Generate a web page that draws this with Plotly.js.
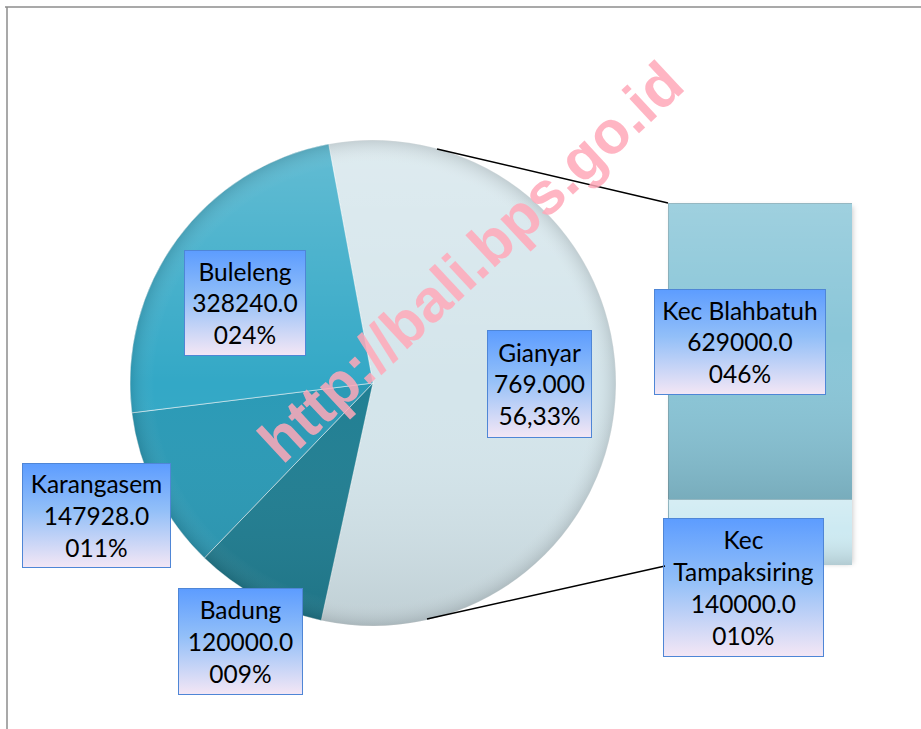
<!DOCTYPE html>
<html>
<head>
<meta charset="utf-8">
<script src="https://cdn.plot.ly/plotly-3.0.1.min.js"></script>
<style>
  html, body { margin: 0; padding: 0; background: #ffffff; }
  #chart { width: 921px; height: 729px; }
</style>
</head>
<body>
<div id="chart"></div>
<script>
// ---- data ----
const pieLabels = ['Gianyar', 'Badung', 'Karangasem', 'Buleleng'];
const pieValues = [769000, 120000, 147928, 328240];
const pieValueText = ['769.000', '120000.0', '147928.0', '328240.0'];
const piePctText = ['56,33%', '009%', '011%', '024%'];

const barLabels = ['Kec Tampaksiring', 'Kec Blahbatuh'];
const barValues = [140000, 629000];
const barValueText = ['140000.0', '629000.0'];
const barPctText = ['010%', '046%'];

const barCategory = ['Gianyar'];
const watermarkText = 'http://bali.bps.go.id';

// ---- helpers: pixel -> paper ----
const W = 921, H = 729;
const px = x => x / W;
const py = y => 1 - y / H;
const svgUri = s => 'data:image/svg+xml;charset=utf-8,' + encodeURIComponent(s);

const pieColors = ['#d4e5eb', '#217f93', '#2b9ab6', '#33a8c6'];
const barColors = ['#cdeaf2', '#8ac6d8'];

const pieBox = [130, 140, 616, 626]; // left, top, right, bottom (pixels)
const barBox = [668, 203, 852, 565];

const pieTrace = {
  type: 'pie',
  labels: pieLabels,
  values: pieValues,
  sort: false,
  direction: 'clockwise',
  rotation: -10.5,
  textinfo: 'none',
  marker: { colors: pieColors, line: { color: 'rgba(255,255,255,0.5)', width: 1 } },
  domain: { x: [px(pieBox[0]), px(pieBox[2])], y: [py(pieBox[3]), py(pieBox[1])] },
  showlegend: false
};

const barTraces = barLabels.map((lab, i) => ({
  type: 'bar',
  x: barCategory,
  y: [barValues[i]],
  name: lab,
  width: 1,
  marker: { color: barColors[i], line: { color: '#7fa9b5', width: 1 } },
  xaxis: 'x', yaxis: 'y',
  showlegend: false,
  hoverinfo: 'name+y'
}));

const barTotal = barValues.reduce((a, b) => a + b, 0);

// label boxes (pixel boxes: left, top, right, bottom)
const boxBorder = '#4f86d6';
const labelFont = { family: 'Lato, "Open Sans", sans-serif', size: 24.5, color: '#000000' };

const pieBoxes = [
  [487, 330, 592, 438],   // Gianyar
  [178, 588, 303, 695],   // Badung
  [22, 463, 171, 568],    // Karangasem
  [184, 250, 306, 356]    // Buleleng
];
const barBoxes = [
  [663, 518, 824, 657],   // Tampaksiring
  [654, 289, 826, 395]    // Blahbatuh
];

function box(b, text) {
  return {
    xref: 'paper', yref: 'paper',
    x: px((b[0] + b[2]) / 2), y: py((b[1] + b[3]) / 2),
    xanchor: 'center', yanchor: 'middle',
    showarrow: false,
    text: text,
    align: 'center',
    font: labelFont,
    bgcolor: 'rgba(0,0,0,0)',
    bordercolor: boxBorder,
    borderwidth: 1,
    borderpad: 0,
    width: b[2] - b[0] - 2,
    height: b[3] - b[1] - 2
  };
}

function imgAt(b, src, layer) {
  return {
    source: src, xref: 'paper', yref: 'paper',
    x: px(b[0]), y: py(b[1]),
    sizex: (b[2] - b[0]) / W, sizey: (b[3] - b[1]) / H,
    xanchor: 'left', yanchor: 'top', sizing: 'stretch', layer: layer
  };
}

const boxGrad = svgUri('<svg xmlns="http://www.w3.org/2000/svg" width="100" height="100" viewBox="0 0 100 100" preserveAspectRatio="none"><defs><linearGradient id="g" x1="0" y1="0" x2="0" y2="1"><stop offset="0" stop-color="#5c9cff"/><stop offset="0.45" stop-color="#92bff8"/><stop offset="1" stop-color="#f5e7f5"/></linearGradient></defs><rect width="100" height="100" fill="url(#g)"/></svg>');

const pieShade = svgUri('<svg xmlns="http://www.w3.org/2000/svg" width="200" height="200" viewBox="0 0 200 200"><defs><linearGradient id="s" x1="0" y1="0" x2="0" y2="1"><stop offset="0" stop-color="#ffffff" stop-opacity="0.24"/><stop offset="0.5" stop-color="#ffffff" stop-opacity="0"/><stop offset="1" stop-color="#000000" stop-opacity="0.1"/></linearGradient><radialGradient id="r" cx="0.5" cy="0.5" r="0.5"><stop offset="0.9" stop-color="#ffffff" stop-opacity="0"/><stop offset="1" stop-color="#000000" stop-opacity="0.12"/></radialGradient></defs><circle cx="100" cy="100" r="100" fill="url(#s)"/><circle cx="100" cy="100" r="100" fill="url(#r)"/></svg>');

const pieShadow = svgUri('<svg xmlns="http://www.w3.org/2000/svg" width="240" height="240" viewBox="0 0 240 240"><defs><filter id="f" x="-20%" y="-20%" width="140%" height="140%"><feGaussianBlur stdDeviation="3"/></filter></defs><circle cx="123" cy="124" r="100" fill="#000000" fill-opacity="0.35" filter="url(#f)"/></svg>');

const barShade = svgUri('<svg xmlns="http://www.w3.org/2000/svg" width="100" height="100" viewBox="0 0 100 100" preserveAspectRatio="none"><defs><linearGradient id="b" x1="0" y1="0" x2="0" y2="1"><stop offset="0" stop-color="#ffffff" stop-opacity="0.18"/><stop offset="0.45" stop-color="#ffffff" stop-opacity="0"/><stop offset="1" stop-color="#000000" stop-opacity="0.13"/></linearGradient></defs><rect width="100" height="100" fill="url(#b)"/></svg>');

const barShadow = svgUri('<svg xmlns="http://www.w3.org/2000/svg" width="200" height="400" viewBox="0 0 200 400" preserveAspectRatio="none"><defs><filter id="f" x="-10%" y="-10%" width="120%" height="120%"><feGaussianBlur stdDeviation="3"/></filter></defs><rect x="14" y="14" width="176" height="374" fill="#000000" fill-opacity="0.28" filter="url(#f)"/></svg>');

// boundary between the two bar segments, in pixels, from the data
const barSplitY = barBox[3] - (barBox[3] - barBox[1]) * barValues[0] / barTotal;

const images = [
  imgAt([pieBox[0] - 12, pieBox[1] - 12, pieBox[2] + 12, pieBox[3] + 12], pieShadow, 'below'),
  imgAt([barBox[0] - 10, barBox[1] - 10, barBox[2] + 10, barBox[3] + 10], barShadow, 'below'),
  imgAt(pieBox, pieShade, 'above'),
  imgAt([barBox[0], barBox[1], barBox[2], barSplitY], barShade, 'above'),
  imgAt([barBox[0], barSplitY, barBox[2], barBox[3]], barShade, 'above')
];
pieBoxes.concat(barBoxes).forEach(b => images.push(imgAt(b, boxGrad, 'above')));

const annotations = [];
pieLabels.forEach((lab, i) => {
  annotations.push(box(pieBoxes[i], lab + '<br>' + pieValueText[i] + '<br>' + piePctText[i]));
});
barLabels.forEach((lab, i) => {
  annotations.push(box(barBoxes[i], lab.replace('Kec Tampaksiring', 'Kec<br>Tampaksiring') + '<br>' + barValueText[i] + '<br>' + barPctText[i]));
});
annotations.push({
  xref: 'paper', yref: 'paper',
  x: px(470), y: py(262),
  xanchor: 'center', yanchor: 'middle',
  showarrow: false,
  text: '<b>' + watermarkText + '</b>',
  textangle: -43,
  font: { family: '"Liberation Sans", Arial, sans-serif', size: 60, color: 'rgba(255,168,185,0.85)' }
});

const shapes = [
  // outer frame (top and left)
  { type: 'line', xref: 'paper', yref: 'paper', x0: px(5), y0: py(7), x1: 1.01, y1: py(7), line: { color: '#8c8c8c', width: 1.5 } },
  { type: 'line', xref: 'paper', yref: 'paper', x0: px(7), y0: py(7), x1: px(7), y1: -0.01, line: { color: '#8c8c8c', width: 1.5 } },
  // connector lines
  { type: 'line', xref: 'paper', yref: 'paper', x0: px(437), y0: py(149), x1: px(668), y1: py(203), line: { color: '#000000', width: 1.5 } },
  { type: 'line', xref: 'paper', yref: 'paper', x0: px(427), y0: py(619), x1: px(665), y1: py(566), line: { color: '#000000', width: 1.5 } }
];

const layout = {
  width: W, height: H,
  margin: { l: 0, r: 0, t: 0, b: 0, pad: 0 },
  paper_bgcolor: '#ffffff',
  plot_bgcolor: 'rgba(0,0,0,0)',
  barmode: 'stack',
  bargap: 0,
  xaxis: { domain: [px(barBox[0]), px(barBox[2])], range: [-0.5, 0.5], visible: false, fixedrange: true },
  yaxis: { domain: [py(barBox[3]), py(barBox[1])], range: [0, barTotal], visible: false, fixedrange: true },
  showlegend: false,
  images: images,
  annotations: annotations,
  shapes: shapes
};

Plotly.newPlot('chart', [pieTrace].concat(barTraces), layout, { displayModeBar: false, staticPlot: true });
</script>
</body>
</html>
